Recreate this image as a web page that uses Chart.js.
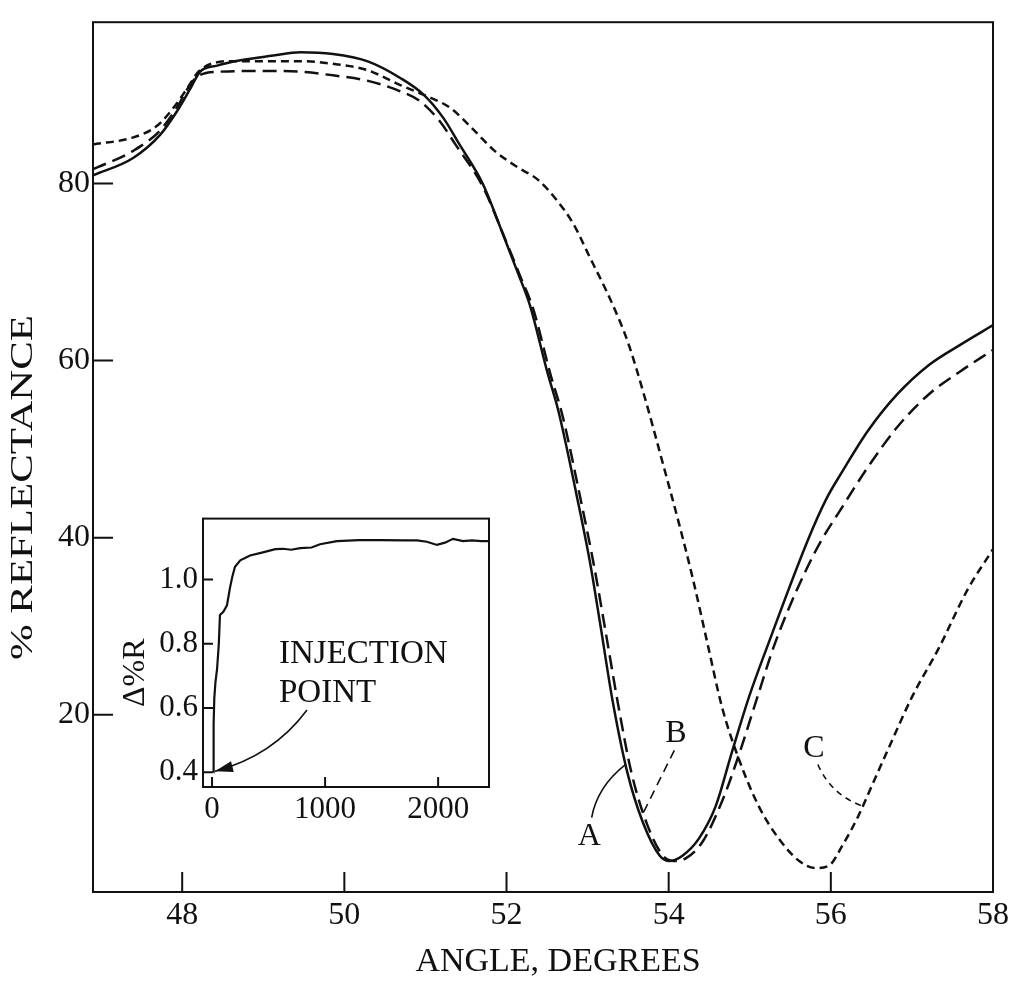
<!DOCTYPE html>
<html>
<head>
<meta charset="utf-8">
<title>% Reflectance vs angle</title>
<script src="https://cdn.jsdelivr.net/npm/chart.js@4.4.1/dist/chart.umd.min.js"></script>
<style>
  html, body { margin: 0; padding: 0; background: #fff; }
  #wrap { position: relative; width: 1015px; height: 985px; }
  #main { position: absolute; left: 0; top: 0; }
  #inset { position: absolute; left: 120px; top: 495px; }
</style>
</head>
<body>
<div id="wrap">
  <canvas id="main" width="1015" height="985"></canvas>
  <canvas id="inset" width="380" height="345"></canvas>
</div>
<script>
// ── Data ─────────────────────────────────────────────────────────────────────

// Curve A (solid)
const angleA = [46.9, 47.4, 47.73, 47.94, 48.1, 48.22, 48.43, 48.72, 49.1, 49.46, 49.86, 50.28, 50.69, 50.98, 51.22,
                51.42, 51.71, 51.95, 52.14, 52.29, 52.5, 52.64, 52.86, 53.03, 53.16, 53.31, 53.49, 53.68, 53.89, 54.01,
                54.17, 54.37, 54.58, 54.78, 54.99, 55.24, 55.72, 55.94, 56.15, 56.46, 56.82, 57.21, 57.6, 58.0];
const reflA  = [80.9, 82.9, 85.5, 88.2, 90.7, 92.6, 93.3, 93.9, 94.4, 94.8, 94.6, 93.8, 91.9, 90.0, 87.4,
                84.4, 79.9, 74.4, 69.9, 66.2, 58.8, 54.3, 45.0, 37.2, 30.0, 21.5, 13.5, 7.9, 4.1, 3.5,
                4.1, 6.0, 9.7, 15.8, 22.0, 28.3, 39.8, 44.3, 47.6, 52.1, 56.2, 59.5, 61.8, 64.0];

// Curve B (long dashes)
const angleB = [46.9, 47.4, 47.73, 47.95, 48.06, 48.18, 48.43, 49.05, 49.46, 49.86, 50.28, 50.69, 50.93, 51.17, 51.37,
                51.71, 51.97, 52.17, 52.33, 52.54, 52.69, 52.91, 53.08, 53.22, 53.38, 53.54, 53.74, 53.93, 54.07, 54.21,
                54.42, 54.67, 54.87, 55.08, 55.32, 55.8, 56.15, 56.46, 56.82, 57.21, 57.6, 58.0];
const reflB  = [81.6, 83.7, 86.0, 88.8, 90.6, 92.0, 92.6, 92.7, 92.6, 92.2, 91.6, 90.4, 89.3, 87.1, 84.4,
                79.6, 74.0, 69.5, 65.8, 58.5, 53.8, 44.5, 36.8, 29.5, 21.0, 13.5, 7.5, 4.1, 3.5, 3.8,
                5.7, 10.5, 15.6, 21.6, 28.3, 38.3, 43.6, 48.0, 52.5, 56.2, 58.8, 61.2];

// Curve C (short dashes)
const angleC = [46.9, 47.4, 47.69, 47.89, 48.06, 48.22, 48.63, 49.46, 49.86, 50.28, 50.69, 50.98, 51.31, 51.61, 51.85,
                52.14, 52.39, 52.62, 52.82, 53.02, 53.3, 53.5, 53.7, 53.91, 54.13, 54.3, 54.48, 54.66, 54.87, 55.11,
                55.36, 55.61, 55.81, 55.98, 56.14, 56.34, 56.54, 56.74, 57.0, 57.33, 57.69, 58.0];
const reflC  = [84.4, 85.2, 86.5, 88.5, 90.7, 92.8, 93.8, 93.8, 93.5, 92.8, 91.1, 90.0, 88.5, 85.9, 83.7,
                81.8, 80.4, 78.1, 75.5, 71.8, 66.5, 62.0, 56.0, 49.0, 41.5, 35.3, 28.0, 20.8, 14.9, 9.7,
                6.0, 3.5, 2.7, 3.0, 5.2, 8.6, 12.7, 16.8, 22.0, 27.5, 34.2, 38.7];

const angleTicks = [48, 50, 52, 54, 56, 58];
const reflTicks  = [20, 40, 60, 80];

// Inset: Δ%R vs time
const insetTime  = [12, 14, 20, 30, 44, 60, 70, 100, 132, 159, 180, 203, 250, 336, 450, 560, 628, 700, 780, 880,
                    955, 1105, 1300, 1500, 1700, 1813, 1900, 1990, 2060, 2132, 2220, 2300, 2380, 2450];
const insetDelta = [0.40, 0.55, 0.63, 0.68, 0.72, 0.80, 0.89, 0.90, 0.92, 0.975, 1.01, 1.04, 1.06, 1.075, 1.085,
                    1.095, 1.096, 1.093, 1.098, 1.10, 1.11, 1.12, 1.123, 1.123, 1.122, 1.122, 1.118, 1.108, 1.115,
                    1.127, 1.12, 1.122, 1.12, 1.12];
const timeTicks  = [0, 1000, 2000];
const deltaTicks = [0.4, 0.6, 0.8, 1.0];

// ── Style ────────────────────────────────────────────────────────────────────

const INK   = '#111';
const SERIF = '"Liberation Serif", "Times New Roman", serif';

const toPoints = (xs, ys) => xs.map((x, i) => ({ x, y: ys[i] }));

// Frame box + inward tick marks
function framePlugin(len, width) {
    return {
        id: 'frame',
        afterDatasetsDraw(chart) {
            const { ctx, chartArea: a, scales: { x, y } } = chart;
            ctx.save();
            ctx.strokeStyle = INK;
            ctx.lineWidth = width;
            ctx.strokeRect(a.left, a.top, a.right - a.left, a.bottom - a.top);
            ctx.beginPath();
            x.ticks.forEach(t => {
                const px = x.getPixelForValue(t.value);
                ctx.moveTo(px, a.bottom);
                ctx.lineTo(px, a.bottom - len);
            });
            y.ticks.forEach(t => {
                const py = y.getPixelForValue(t.value);
                ctx.moveTo(a.left, py);
                ctx.lineTo(a.left + len, py);
            });
            ctx.stroke();
            ctx.restore();
        }
    };
}

// ── Main chart annotations ───────────────────────────────────────────────────

const mainNotes = {
    id: 'mainNotes',
    afterDraw(chart) {
        const { ctx, chartArea: a, scales: { x, y } } = chart;
        const P = (vx, vy) => [x.getPixelForValue(vx), y.getPixelForValue(vy)];
        ctx.save();
        ctx.fillStyle = INK;
        ctx.strokeStyle = INK;

        // axis titles
        ctx.font = '34px ' + SERIF;
        ctx.textAlign = 'center';
        ctx.textBaseline = 'middle';
        ctx.fillText('ANGLE, DEGREES', (a.left + a.right) / 2 + 15, a.bottom + 70);

        ctx.save();
        ctx.translate(a.left - 69, a.top + (a.bottom - a.top) * 0.535);
        ctx.rotate(-Math.PI / 2);
        ctx.font = '31px ' + SERIF;
        const w = ctx.measureText('% REFLECTANCE').width;
        ctx.scale(345 / w, 1);
        ctx.fillText('% REFLECTANCE', 0, 0);
        ctx.restore();

        // curve labels
        ctx.font = '32px ' + SERIF;
        ctx.fillText('A', ...P(53.02, 6.2));
        ctx.fillText('B', ...P(54.09, 17.9));
        ctx.fillText('C', ...P(55.79, 16.2));

        // leader A (solid arc)
        ctx.lineWidth = 1.6;
        ctx.setLineDash([]);
        ctx.beginPath();
        ctx.moveTo(...P(53.05, 8.4));
        ctx.quadraticCurveTo(...P(53.12, 11.9), ...P(53.47, 14.4));
        ctx.stroke();

        // leader B (dashed)
        ctx.setLineDash([9, 6]);
        ctx.beginPath();
        ctx.moveTo(...P(54.07, 16.0));
        ctx.lineTo(...P(53.69, 9.0));
        ctx.stroke();

        // leader C (dashed arc)
        ctx.setLineDash([6, 5]);
        ctx.beginPath();
        ctx.moveTo(...P(55.84, 14.4));
        ctx.quadraticCurveTo(...P(56.0, 11.0), ...P(56.39, 9.7));
        ctx.stroke();

        ctx.restore();
    }
};

// ── Inset annotations ───────────────────────────────────────────────────────

const insetNotes = {
    id: 'insetNotes',
    afterDraw(chart) {
        const { ctx, chartArea: a, scales: { x, y } } = chart;
        const P = (vx, vy) => [x.getPixelForValue(vx), y.getPixelForValue(vy)];
        ctx.save();
        ctx.fillStyle = INK;
        ctx.strokeStyle = INK;

        // rotated y title
        ctx.save();
        ctx.translate(a.left - 67, y.getPixelForValue(0.71));
        ctx.rotate(-Math.PI / 2);
        ctx.font = '32px ' + SERIF;
        ctx.textAlign = 'center';
        ctx.textBaseline = 'middle';
        ctx.fillText('Δ%R', 0, 0);
        ctx.restore();

        // INJECTION POINT
        ctx.font = '33px ' + SERIF;
        ctx.textAlign = 'left';
        ctx.textBaseline = 'alphabetic';
        ctx.fillText('INJECTION', ...P(592, 0.74));
        ctx.fillText('POINT', ...P(592, 0.62));

        // curved arrow
        const s = P(840, 0.594), c = P(539, 0.451), e = P(26, 0.403);
        ctx.lineWidth = 1.6;
        ctx.beginPath();
        ctx.moveTo(...s);
        ctx.quadraticCurveTo(...c, ...e);
        ctx.stroke();
        const ang = Math.atan2(e[1] - c[1], e[0] - c[0]);
        const L = 18, W = 5.5;
        ctx.beginPath();
        ctx.moveTo(e[0], e[1]);
        ctx.lineTo(e[0] - L * Math.cos(ang) + W * Math.sin(ang), e[1] - L * Math.sin(ang) - W * Math.cos(ang));
        ctx.lineTo(e[0] - L * Math.cos(ang) - W * Math.sin(ang), e[1] - L * Math.sin(ang) + W * Math.cos(ang));
        ctx.closePath();
        ctx.fill();

        ctx.restore();
    }
};

// ── Charts ──────────────────────────────────────────────────────────────────

const lineStyle = {
    borderColor: INK,
    borderWidth: 2.5,
    pointRadius: 0,
    fill: false,
    cubicInterpolationMode: 'monotone'
};

new Chart(document.getElementById('main'), {
    type: 'line',
    data: {
        datasets: [
            { ...lineStyle, label: 'A', data: toPoints(angleA, reflA) },
            { ...lineStyle, label: 'B', data: toPoints(angleB, reflB), borderDash: [14, 7] },
            { ...lineStyle, label: 'C', data: toPoints(angleC, reflC), borderDash: [8, 5] }
        ]
    },
    options: {
        responsive: false,
        animation: false,
        devicePixelRatio: 1,
        layout: { padding: { left: 0, right: 22, top: 14, bottom: 0 } },
        plugins: { legend: { display: false }, tooltip: { enabled: false } },
        scales: {
            x: {
                type: 'linear',
                min: 46.9,
                max: 58,
                afterBuildTicks: s => { s.ticks = angleTicks.map(v => ({ value: v })); },
                afterFit: s => { s.height = 93; },
                grid: { display: false, drawTicks: false },
                border: { display: false },
                ticks: { color: INK, font: { family: SERIF, size: 32 }, padding: 4, maxRotation: 0,
                         callback: v => String(v) }
            },
            y: {
                min: 0,
                max: 98.2,
                afterBuildTicks: s => { s.ticks = reflTicks.map(v => ({ value: v })); },
                afterFit: s => { s.width = 93; },
                grid: { display: false, drawTicks: false },
                border: { display: false },
                ticks: { color: INK, font: { family: SERIF, size: 32 }, padding: 3, callback: v => String(v) }
            }
        }
    },
    plugins: [framePlugin(20, 2), mainNotes]
});

new Chart(document.getElementById('inset'), {
    type: 'line',
    data: {
        datasets: [{
            label: 'Δ%R',
            data: toPoints(insetTime, insetDelta),
            borderColor: INK,
            borderWidth: 2.2,
            pointRadius: 0,
            fill: false,
            tension: 0
        }]
    },
    options: {
        responsive: false,
        animation: false,
        devicePixelRatio: 1,
        layout: { padding: { left: 0, right: 11, top: 17, bottom: 0 } },
        plugins: { legend: { display: false }, tooltip: { enabled: false } },
        scales: {
            x: {
                type: 'linear',
                min: -80,
                max: 2450,
                afterBuildTicks: s => { s.ticks = timeTicks.map(v => ({ value: v })); },
                afterFit: s => { s.height = 53; },
                grid: { display: false, drawTicks: false },
                border: { display: false },
                ticks: { color: INK, font: { family: SERIF, size: 31 }, padding: 4, maxRotation: 0,
                         callback: v => String(v) }
            },
            y: {
                min: 0.354,
                max: 1.19,
                afterBuildTicks: s => { s.ticks = deltaTicks.map(v => ({ value: v })); },
                afterFit: s => { s.width = 83; },
                grid: { display: false, drawTicks: false },
                border: { display: false },
                ticks: { color: INK, font: { family: SERIF, size: 31 }, padding: 5, callback: v => v.toFixed(1) }
            }
        }
    },
    plugins: [framePlugin(10, 2), insetNotes]
});
</script>
</body>
</html>
